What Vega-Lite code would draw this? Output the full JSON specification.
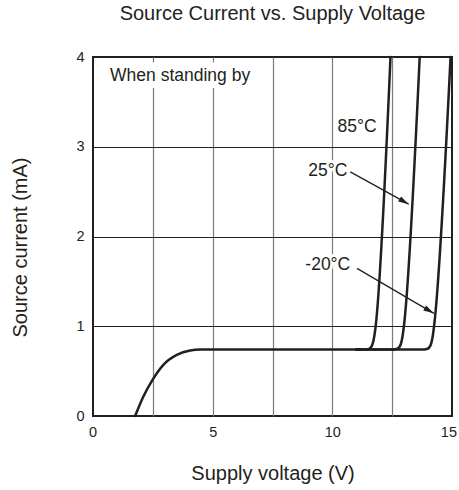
{
  "$schema": "https://vega.github.io/schema/vega-lite/v6.json",
  "width": 359,
  "height": 359,
  "autosize": {"type": "none"},
  "padding": {"left": 93, "top": 57, "right": 7, "bottom": 74},
  "title": {"text": "Source Current vs. Supply Voltage", "fontSize": 20, "font": "Liberation Sans", "fontWeight": "normal", "color": "#231f20", "frame": "group", "offset": 25, "anchor": "middle"},
  "config": {"view": {"stroke": "#231f20", "strokeWidth": 2}, "font": "Liberation Sans"},
  "datasets": {
    "box": [{"x0": 0.06, "x1": 7.0, "y0": 3.655, "y1": 3.94}],
    "curves": [
      {"series": "base", "v": 1.76, "i": 0},
      {"series": "base", "v": 2.1, "i": 0.215},
      {"series": "base", "v": 2.48, "i": 0.4},
      {"series": "base", "v": 2.94, "i": 0.57},
      {"series": "base", "v": 3.5, "i": 0.68},
      {"series": "base", "v": 4.06, "i": 0.73},
      {"series": "base", "v": 4.48, "i": 0.74},
      {"series": "base", "v": 11.2, "i": 0.74},
      {"series": "85", "v": 11.0, "i": 0.74},
      {"series": "85", "v": 11.3, "i": 0.74},
      {"series": "85", "v": 11.55, "i": 0.75},
      {"series": "85", "v": 11.68, "i": 0.8},
      {"series": "85", "v": 11.76, "i": 0.9},
      {"series": "85", "v": 11.81, "i": 1.0},
      {"series": "85", "v": 12.43, "i": 4.0},
      {"series": "25", "v": 11.0, "i": 0.74},
      {"series": "25", "v": 12.45, "i": 0.74},
      {"series": "25", "v": 12.72, "i": 0.75},
      {"series": "25", "v": 12.86, "i": 0.8},
      {"series": "25", "v": 12.94, "i": 0.9},
      {"series": "25", "v": 12.99, "i": 1.0},
      {"series": "25", "v": 13.65, "i": 4.0},
      {"series": "-20", "v": 11.0, "i": 0.74},
      {"series": "-20", "v": 13.72, "i": 0.74},
      {"series": "-20", "v": 13.98, "i": 0.75},
      {"series": "-20", "v": 14.12, "i": 0.8},
      {"series": "-20", "v": 14.2, "i": 0.9},
      {"series": "-20", "v": 14.25, "i": 1.0},
      {"series": "-20", "v": 14.94, "i": 4.0}
    ],
    "arrows": [
      {"x0": 10.75, "y0": 2.72, "x1": 13.19, "y1": 2.36},
      {"x0": 11.03, "y0": 1.645, "x1": 14.24, "y1": 1.144}
    ],
    "labels": [
      {"t": "85°C", "x": 11.03, "y": 3.22},
      {"t": "25°C", "x": 9.81, "y": 2.73},
      {"t": "-20°C", "x": 9.81, "y": 1.68},
      {"t": "When standing by", "x": 3.64, "y": 3.79}
    ]
  },
  "layer": [
    {
      "data": {"name": "box"},
      "mark": {"type": "rect", "fill": "white"},
      "encoding": {
        "x": {"field": "x0", "type": "quantitative", "scale": {"domain": [0, 15], "nice": false, "zero": false},
          "axis": {"values": [0, 2.5, 5, 7.5, 10, 12.5, 15], "format": "d", "labelExpr": "datum.value % 5 === 0 ? datum.label : ''",
            "grid": true, "gridColor": {"condition": {"test": "datum.value === 0 || datum.value === 15", "value": "transparent"}, "value": "#7a7a7a"}, "gridWidth": 1.2,
            "domain": false, "ticks": false, "tickSize": 0, "labelFontSize": 14.5, "labelPadding": 9, "labelColor": "#231f20", "labelFlush": true, "labelFlushOffset": 4.5, "labelOverlap": false,
            "title": "Supply voltage (V)", "titleFontSize": 20, "titleFontWeight": "normal", "titleColor": "#231f20", "titleY": 57, "titleBaseline": "middle"}},
        "x2": {"field": "x1"},
        "y": {"field": "y0", "type": "quantitative", "scale": {"domain": [0, 4], "nice": false, "zero": false},
          "axis": {"values": [0, 1, 2, 3, 4], "format": "d",
            "grid": true, "gridColor": {"condition": {"test": "datum.value === 0 || datum.value === 4", "value": "transparent"}, "value": "#231f20"}, "gridWidth": 1,
            "domain": false, "ticks": false, "tickSize": 0, "labelFontSize": 14.5, "labelPadding": 9, "labelColor": "#231f20", "labelFlush": false, "labelOverlap": false,
            "title": "Source current (mA)", "titleFontSize": 20, "titleFontWeight": "normal", "titleColor": "#231f20", "titleX": -73, "titleY": 190, "titleBaseline": "middle"}},
        "y2": {"field": "y1"}
      }
    },
    {
      "data": {"name": "curves"},
      "mark": {"type": "line", "interpolate": "monotone", "color": "#231f20", "strokeWidth": 2.5, "strokeCap": "round", "strokeJoin": "round"},
      "encoding": {
        "x": {"field": "v", "type": "quantitative"},
        "y": {"field": "i", "type": "quantitative"},
        "detail": {"field": "series"}
      }
    },
    {
      "data": {"name": "labels"},
      "mark": {"type": "text", "fontSize": 17.5, "stroke": "white", "strokeWidth": 6, "fill": "white", "align": "center", "baseline": "middle"},
      "encoding": {
        "x": {"field": "x", "type": "quantitative"},
        "y": {"field": "y", "type": "quantitative"},
        "text": {"field": "t"}
      }
    },
    {
      "data": {"name": "labels"},
      "mark": {"type": "text", "fontSize": 17.5, "color": "#231f20", "align": "center", "baseline": "middle"},
      "encoding": {
        "x": {"field": "x", "type": "quantitative"},
        "y": {"field": "y", "type": "quantitative"},
        "text": {"field": "t"}
      }
    },
    {
      "data": {"name": "arrows"},
      "mark": {"type": "rule", "color": "#231f20", "strokeWidth": 1.3},
      "encoding": {
        "x": {"field": "x0", "type": "quantitative"},
        "y": {"field": "y0", "type": "quantitative"},
        "x2": {"field": "x1"},
        "y2": {"field": "y1"}
      }
    },
    {
      "data": {"name": "arrows"},
      "mark": {"type": "point", "shape": "M0,0L-2,-0.55L-2,0.55Z", "filled": true, "color": "#231f20", "opacity": 1, "size": 110, "angle": 30},
      "encoding": {
        "x": {"field": "x1", "type": "quantitative"},
        "y": {"field": "y1", "type": "quantitative"}
      }
    }
  ]
}
